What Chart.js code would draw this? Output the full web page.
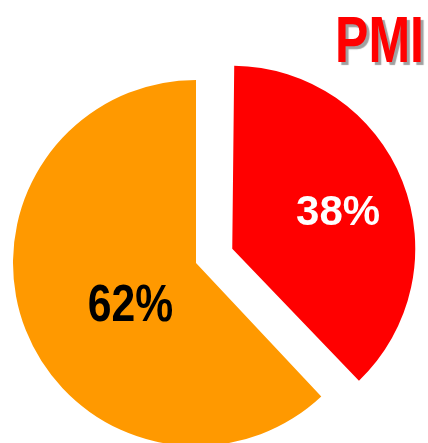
<!DOCTYPE html>
<html>
<head>
<meta charset="utf-8">
<script src="https://cdn.jsdelivr.net/npm/chart.js@4"></script>
<style>
  html, body { margin: 0; padding: 0; background: #fff; }
  #chart { display: block; }
</style>
</head>
<body>
<canvas id="chart" width="428" height="443"></canvas>
<script>
const titleText = "PMI";
const categories = ["Part A", "Part B"];
const values = [38, 62];
const colors = ["#FF0000", "#FF9900"];

// label look and placement, one per slice
const labelColors = ["#FFFFFF", "#000000"];
const labelSizes = [42, 52];
const labelSquash = [1, 0.82];      // horizontal scale, narrow face
const labelRadius = [0.61, 0.43];   // fraction of the radius
const labelTurn = [3, -12];         // degrees away from the slice middle

const pieRadius = 183;
const total = values.reduce((a, b) => a + b, 0);
const FONT = "'Liberation Sans', Arial, sans-serif";

function drawText(ctx, text, x, y, squash) {
  ctx.save();
  ctx.translate(x, y);
  ctx.scale(squash, 1);
  ctx.fillText(text, 0, 0);
  ctx.restore();
}

// v4 grows an offset arc by offset/4 * (1 - sin(circumference)); undo that
const keepRadius = {
  id: "keepRadius",
  beforeDatasetsDraw(chart) {
    chart.getDatasetMeta(0).data.forEach(function(arc) {
      const off = (arc.options.offset || 0) / 4;
      const fix = 1 - Math.sin(Math.min(Math.PI, arc.circumference || 0));
      arc.outerRadius = pieRadius - off * fix;
    });
  }
};

const titlePlugin = {
  id: "pmiTitle",
  afterDraw(chart) {
    const ctx = chart.ctx;
    ctx.save();
    ctx.font = "bold 65px " + FONT;
    ctx.textAlign = "right";
    ctx.textBaseline = "alphabetic";
    ctx.shadowColor = "rgba(150,150,150,0.9)";
    ctx.shadowOffsetX = 3;
    ctx.shadowOffsetY = 3;
    ctx.shadowBlur = 1;
    ctx.fillStyle = "#FF0000";
    drawText(ctx, titleText, 424, 62, 0.77);
    ctx.restore();
  }
};

const sliceLabels = {
  id: "sliceLabels",
  afterDatasetsDraw(chart) {
    const ctx = chart.ctx;
    const meta = chart.getDatasetMeta(0);
    meta.data.forEach(function(arc, i) {
      const p = arc.getProps(["x", "y", "startAngle", "endAngle"], true);
      const offset = (arc.options.offset || 0) / 4; // v4 arcs move by offset/4
      const mid = (p.startAngle + p.endAngle) / 2;
      const ox = p.x + Math.cos(mid) * offset;
      const oy = p.y + Math.sin(mid) * offset;
      const a = mid + labelTurn[i] * Math.PI / 180;
      const d = pieRadius * labelRadius[i];
      const pct = Math.round(values[i] / total * 100) + "%";
      ctx.save();
      ctx.font = "bold " + labelSizes[i] + "px " + FONT;
      ctx.fillStyle = labelColors[i];
      ctx.textAlign = "center";
      ctx.textBaseline = "middle";
      drawText(ctx, pct, ox + Math.cos(a) * d, oy + Math.sin(a) * d, labelSquash[i]);
      ctx.restore();
    });
  }
};

new Chart(document.getElementById("chart"), {
  type: "pie",
  data: {
    labels: categories,
    datasets: [{
      data: values,
      backgroundColor: colors,
      borderWidth: 0,
      offset: [156, 0],
      clip: false
    }]
  },
  options: {
    responsive: false,
    animation: false,
    radius: pieRadius,
    layout: { padding: { left: 0, right: 36, top: 83, bottom: 0 } },
    plugins: {
      legend: { display: false },
      tooltip: { enabled: false },
      title: { display: false }
    },
    events: []
  },
  plugins: [keepRadius, sliceLabels, titlePlugin]
});
</script>
</body>
</html>
